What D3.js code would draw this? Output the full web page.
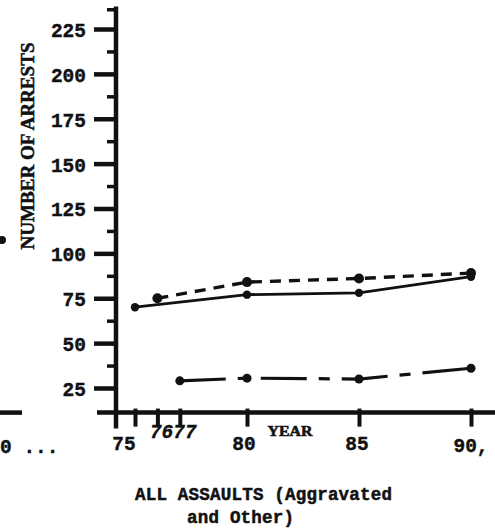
<!DOCTYPE html>
<html>
<head>
<meta charset="utf-8">
<script src="https://cdn.jsdelivr.net/npm/d3@7"></script>
<style>
  html, body { margin: 0; padding: 0; background: #fff; }
  svg { display: block; }
  text { fill: #111; }
</style>
</head>
<body>
<div id="chart"></div>
<script>
// values
const yearTicks = [75, 76, 77, 80, 85, 90];
const yearTickLabels = ['75', '76', '77', '80', '85', '90,'];
const arrestTicks = [25, 50, 75, 100, 125, 150, 175, 200, 225];
const minorTicks = [37.5, 62.5, 87.5, 112.5, 137.5, 162.5, 187.5, 212.5, 236];

const solidYears = [75, 80, 85, 90];
const solidValues = [70, 77, 78, 87];
const dashedYears = [76, 80, 85, 90];
const dashedValues = [75, 84, 86, 89];
const dashDotYears = [77, 80, 85, 90];
const dashDotValues = [29, 30.5, 30, 36];

const W = 495, H = 530;
const ink = '#111';

const svg = d3.select('#chart').append('svg')
    .attr('width', W)
    .attr('height', H);

const x = d3.scaleLinear().domain([75, 90]).range([135, 471]);
const y = d3.scaleLinear().domain([25, 225]).range([388, 29]);

const axisX = 116;          // where the year axis meets the arrests axis
const baseVal = 11.3;       // arrests value at the x axis line
const axisY = y(baseVal);

// ---- y axis
const yAxis = svg.append('g').attr('transform', `translate(${axisX},0)`);
yAxis.call(d3.axisLeft(y).tickValues(arrestTicks).tickSize(22).tickPadding(8))
  .call(g => g.select('.domain').remove());
yAxis.selectAll('.tick line').attr('stroke', ink).attr('stroke-width', 4.5);
yAxis.selectAll('.tick text')
    .attr('font-family', 'Liberation Mono, monospace')
    .attr('font-weight', 'bold')
    .attr('font-size', 19.5)
    .attr('fill', ink)
    .attr('stroke', ink)
    .attr('stroke-width', 0.4)
    .attr('dy', '0.38em');

const yMinor = svg.append('g').attr('transform', `translate(${axisX},0)`);
yMinor.call(d3.axisLeft(y).tickValues(minorTicks).tickSize(9).tickFormat(''))
  .call(g => g.select('.domain').remove());
yMinor.selectAll('.tick line').attr('stroke', ink).attr('stroke-width', 3.5);

svg.append('line')
    .attr('x1', axisX).attr('x2', axisX)
    .attr('y1', y(237.5)).attr('y2', axisY + 16)
    .attr('stroke', ink).attr('stroke-width', 4.5);

// ---- x axis
const xAxis = svg.append('g').attr('transform', `translate(0,${axisY})`);
xAxis.call(d3.axisBottom(x).tickValues(yearTicks).tickSize(14).tickFormat(''))
  .call(g => g.select('.domain').remove());
xAxis.selectAll('.tick line').attr('y1', -4).attr('stroke', ink).attr('stroke-width', 4);

svg.append('line')
    .attr('x1', 97).attr('x2', W)
    .attr('y1', axisY).attr('y2', axisY)
    .attr('stroke', ink).attr('stroke-width', 4.5);

// hand-lettered year labels sit a little off their ticks
const labelShift = { 75: [-11, 37], 76: [4, 25], 77: [5, 25], 80: [-3, 37], 85: [-2, 37], 90: [0, 39] };
svg.append('g').selectAll('text')
  .data(yearTicks)
  .join('text')
    .attr('x', (d) => x(d) + labelShift[d][0])
    .attr('y', (d) => axisY + labelShift[d][1])
    .attr('text-anchor', 'middle')
    .attr('font-family', 'Liberation Mono, monospace')
    .attr('font-weight', 'bold')
    .attr('font-size', 19.5)
    .attr('stroke', ink)
    .attr('stroke-width', 0.4)
    .attr('font-style', (d) => (d === 76 || d === 77) ? 'italic' : 'normal')
    .text((d, i) => yearTickLabels[i]);

svg.append('text')
    .attr('x', 290).attr('y', axisY + 23)
    .attr('text-anchor', 'middle')
    .attr('font-family', 'Liberation Serif, serif')
    .attr('font-weight', 'bold')
    .attr('font-size', 15)
    .attr('stroke', ink)
    .attr('stroke-width', 0.6)
    .attr('textLength', 45)
    .attr('lengthAdjust', 'spacingAndGlyphs')
    .text('YEAR');

svg.append('text')
    .attr('transform', 'translate(34,146) rotate(-90)')
    .attr('text-anchor', 'middle')
    .attr('font-family', 'Liberation Serif, serif')
    .attr('font-weight', 'bold')
    .attr('font-size', 19)
    .attr('stroke', ink)
    .attr('stroke-width', 0.5)
    .attr('textLength', 207)
    .attr('lengthAdjust', 'spacingAndGlyphs')
    .text('NUMBER OF ARRESTS');

// ---- caption
const caption = svg.append('g')
    .attr('font-family', 'Liberation Mono, monospace')
    .attr('font-weight', 'bold')
    .attr('font-size', 17.5)
    .attr('stroke', ink)
    .attr('stroke-width', 0.5);
caption.append('text').attr('x', 135).attr('y', 500).attr('textLength', 257).text('ALL ASSAULTS (Aggravated');
caption.append('text').attr('x', 187).attr('y', 523).attr('textLength', 107).text('and Other)');

// ---- series
const series = [
  { years: solidYears, values: solidValues, dash: null, width: 2.8, r: 4.2 },
  { years: dashedYears, values: dashedValues, dash: '11,8', width: 3.4, r: 5 },
  { years: dashDotYears, values: dashDotValues, dash: '46,12,11,12', width: 3.2, r: 4.5 },
];

const line = d3.line().x((d) => x(d[0])).y((d) => y(d[1]));

series.forEach((s) => {
  const pts = s.years.map((yr, i) => [yr, s.values[i]]);
  svg.append('path')
      .datum(pts)
      .attr('d', line)
      .attr('fill', 'none')
      .attr('stroke', ink)
      .attr('stroke-width', s.width)
      .attr('stroke-dasharray', s.dash);
  svg.append('g').selectAll('circle')
    .data(pts)
    .join('circle')
      .attr('cx', (d) => x(d[0]))
      .attr('cy', (d) => y(d[1]))
      .attr('r', s.r)
      .attr('fill', ink);
});

// fragments of the neighbouring chart on the scanned page
svg.append('line').attr('x1', 0).attr('x2', 22).attr('y1', axisY).attr('y2', axisY)
    .attr('stroke', ink).attr('stroke-width', 4.5);
svg.append('circle').attr('cx', 2).attr('cy', 240).attr('r', 4).attr('fill', ink);
svg.append('text')
    .attr('x', 0).attr('y', 453)
    .attr('font-family', 'Liberation Mono, monospace')
    .attr('font-weight', 'bold')
    .attr('font-size', 19.5)
    .attr('stroke', ink).attr('stroke-width', 0.4)
    .text('0  ...');
</script>
</body>
</html>
